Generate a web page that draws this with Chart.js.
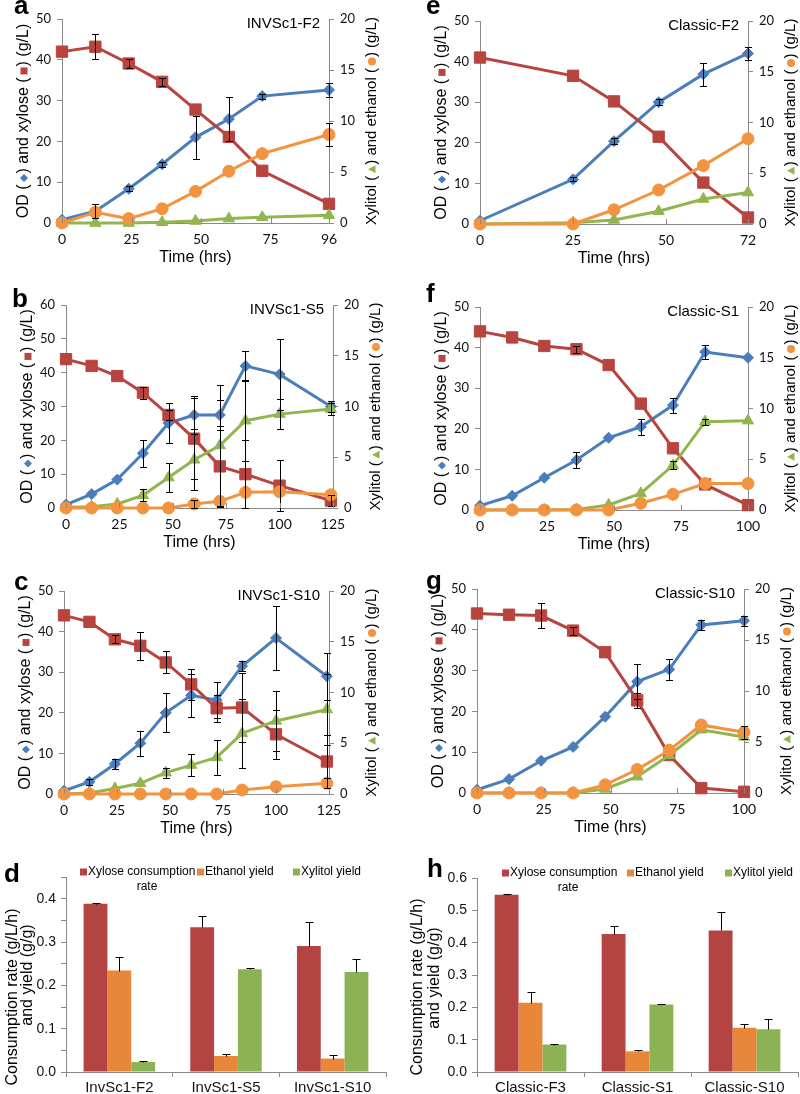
<!DOCTYPE html>
<html>
<head>
<meta charset="utf-8">
<title>Xylose fermentation panels</title>
<script src="https://cdn.jsdelivr.net/npm/chart.js@4.4.1/dist/chart.umd.min.js"></script>
<style>
  html, body { margin: 0; padding: 0; background: #fff; }
  #page { position: relative; width: 800px; height: 1094px; overflow: hidden; }
  #page canvas { position: absolute; }
</style>
</head>
<body>
<div id="page"></div>
<script>
// ---- time course data (left axis: OD, xylose g/L; right axis: xylitol, ethanol g/L) ----

// a  INVSc1-F2
const timesA = [0, 12, 24, 36, 48, 60, 72, 96];
const xTicksA = [0, 25, 50, 75, 96];
const odA = [0.8, 2.9, 8.4, 14.4, 21.0, 25.5, 31.1, 32.6];
const odErrA = [0, 1.7, 0.6, 0.6, 5.2, 5.3, 0.6, 1.8];
const xyloseA = [42.0, 43.2, 39.1, 34.6, 27.8, 21.1, 12.8, 4.7];
const xyloseErrA = [0, 3.1, 1.2, 1.0, 0, 0, 0, 0];
const xylitolA = [0, 0, 0, 0.07, 0.2, 0.43, 0.56, 0.75];
const xylitolErrA = [0, 0, 0, 0, 0, 0, 0, 0];
const ethanolA = [0, 1.05, 0.43, 1.4, 3.1, 5.07, 6.8, 8.67];
const ethanolErrA = [0, 0, 0, 0, 0, 0, 0, 1.1];

// b  INVSc1-S5
const timesB = [0, 12, 24, 36, 48, 60, 72, 84, 100, 124];
const xTicksB = [0, 25, 50, 75, 100, 125];
const odB = [1.0, 4.1, 8.4, 16.2, 25.1, 27.5, 27.5, 42.0, 39.5, 30.0];
const odErrB = [0, 0, 0, 4.0, 6.0, 5.5, 4.5, 4.5, 10.5, 1.5];
const xyloseB = [44.0, 42.0, 39.0, 34.1, 27.5, 20.5, 12.3, 10.0, 6.6, 2.2];
const xyloseErrB = [0, 0, 0, 1.8, 1.5, 12.0, 12.0, 10.0, 7.5, 1.5];
const xylitolB = [0.07, 0.13, 0.4, 1.25, 3.0, 4.75, 6.16, 8.6, 9.25, 9.75];
const xylitolErrB = [0, 0, 0, 0.6, 1.4, 3.0, 6.0, 4.0, 1.5, 0.6];
const ethanolB = [0, 0, 0, 0, 0, 0.4, 0.66, 1.54, 1.6, 1.3];
const ethanolErrB = [0, 0, 0, 0, 0, 0.4, 0, 0, 0, 0];

// c  INVSc1-S10
const timesC = [0, 12, 24, 36, 48, 60, 72, 84, 100, 124];
const xTicksC = [0, 25, 50, 75, 100, 125];
const odC = [0.8, 3.0, 7.4, 12.5, 20.0, 24.3, 23.1, 31.5, 38.4, 29.0];
const odErrC = [0, 0.7, 1.2, 3.1, 4.8, 5.3, 4.5, 1.3, 7.8, 5.8];
const xyloseC = [44.0, 42.4, 38.1, 36.5, 32.4, 27.0, 21.1, 21.3, 14.7, 8.0];
const xyloseErrC = [0, 0, 1.0, 3.4, 2.7, 3.8, 3.3, 8.5, 6.0, 6.5];
const xylitolC = [0, 0.1, 0.55, 1.05, 2.1, 2.85, 3.6, 5.97, 7.2, 8.33];
const xylitolErrC = [0, 0, 0, 0, 0.5, 1.1, 1.75, 3.4, 2.95, 3.5];
const ethanolC = [0, 0, 0, 0, 0, 0, 0, 0.39, 0.72, 1.05];
const ethanolErrC = [0, 0, 0, 0, 0, 0, 0, 0, 0, 0.5];

// e  Classic-F2
const timesE = [0, 25, 36, 48, 60, 72];
const xTicksE = [0, 25, 50, 72];
const odE = [0.8, 11.0, 20.4, 30.0, 36.9, 42.0];
const odErrE = [0, 0.5, 0.7, 0.7, 2.8, 1.6];
const xyloseE = [41.0, 36.5, 30.2, 21.5, 10.2, 1.6];
const xyloseErrE = [0, 0, 0, 0, 0, 0];
const xylitolE = [0, 0.13, 0.4, 1.25, 2.46, 3.1];
const xylitolErrE = [0, 0, 0, 0, 0, 0];
const ethanolE = [0, 0, 1.4, 3.35, 5.75, 8.4];
const ethanolErrE = [0, 0, 0, 0, 0, 0];

// f  Classic-S1
const timesF = [0, 12, 24, 36, 48, 60, 72, 84, 100];
const xTicksF = [0, 25, 50, 75, 100];
const odF = [1.07, 3.5, 7.95, 12.3, 17.8, 20.5, 25.8, 38.9, 37.5];
const odErrF = [0, 0, 0, 2.0, 0, 2.0, 1.9, 1.8, 0];
const xyloseF = [44.0, 42.5, 40.4, 39.6, 35.7, 26.2, 15.2, 6.3, 1.2];
const xyloseErrF = [0, 0, 0, 0.9, 0, 0, 0, 0, 0];
const xylitolF = [0, 0, 0, 0.05, 0.5, 1.64, 4.4, 8.7, 8.8];
const xylitolErrF = [0, 0, 0, 0, 0, 0, 0.4, 0.3, 0];
const ethanolF = [0, 0, 0, 0, 0, 0.66, 1.54, 2.6, 2.6];
const ethanolErrF = [0, 0, 0, 0, 0, 0, 0, 0, 0];

// g  Classic-S10
const timesG = [0, 12, 24, 36, 48, 60, 72, 84, 100];
const xTicksG = [0, 25, 50, 75, 100];
const odG = [0.8, 3.4, 7.9, 11.3, 18.7, 27.3, 30.3, 41.2, 42.2];
const odErrG = [0, 0, 0, 0, 0, 4.2, 2.6, 1.2, 1.2];
const xyloseG = [44.0, 43.7, 43.5, 39.8, 34.5, 22.7, 9.3, 1.2, 0.3];
const xyloseErrG = [0, 0, 3.0, 1.0, 0, 1.8, 0, 0, 0];
const xylitolG = [0, 0, 0, 0, 0.4, 1.6, 3.7, 6.2, 5.5];
const xylitolErrG = [0, 0, 0, 0, 0, 0, 0, 0, 0];
const ethanolG = [0, 0, 0, 0, 0.8, 2.3, 4.2, 6.67, 5.95];
const ethanolErrG = [0, 0, 0, 0, 0, 0, 0, 0, 0.65];

// ---- summary bars ----
const barLabels = ['Xylose consumption rate', 'Ethanol yield', 'Xylitol yield'];

const strainsD = ['InvSc1-F2', 'InvSc1-S5', 'InvSc1-S10'];
const rateD = [0.388, 0.334, 0.291];
const rateErrD = [0.002, 0.025, 0.056];
const ethYieldD = [0.234, 0.037, 0.031];
const ethYieldErrD = [0.031, 0.005, 0.008];
const xolYieldD = [0.023, 0.237, 0.231];
const xolYieldErrD = [0.003, 0.002, 0.029];

const strainsH = ['Classic-F3', 'Classic-S1', 'Classic-S10'];
const rateH = [0.548, 0.427, 0.438];
const rateErrH = [0.002, 0.026, 0.057];
const ethYieldH = [0.214, 0.064, 0.137];
const ethYieldErrH = [0.033, 0.005, 0.010];
const xolYieldH = [0.085, 0.209, 0.132];
const xolYieldErrH = [0.002, 0.002, 0.031];

// ---- styling ----
const BLUE = '#4A7EBB';
const RED = '#B8443F';
const GREEN = '#92B550';
const ORANGE = '#F2943F';
const BAR_RED = '#B34441';
const BAR_ORANGE = '#E8873A';
const BAR_GREEN = '#8CB353';
const AXIS_GRAY = '#8a8a8a';
const SANS = "'Liberation Sans', Arial, sans-serif";

Chart.defaults.font.family = 'Lato';
Chart.defaults.color = '#111';

const page = document.getElementById('page');

function makeCanvas(id, box) {
    const c = document.createElement('canvas');
    c.id = id;
    c.width = box[2];
    c.height = box[3];
    c.style.left = box[0] + 'px';
    c.style.top = box[1] + 'px';
    page.appendChild(c);
    return c;
}

// small marker shape drawn inline in a rotated title (text frame: +x along text)
function drawMarker(ctx, shape, cx, color) {
    ctx.fillStyle = color;
    ctx.beginPath();
    if (shape === 'diamond') {
        ctx.moveTo(cx - 4, 0); ctx.lineTo(cx, -4); ctx.lineTo(cx + 4, 0); ctx.lineTo(cx, 4);
    } else if (shape === 'square') {
        ctx.rect(cx - 3.5, -3.5, 7, 7);
    } else if (shape === 'triangle') {
        ctx.moveTo(cx - 4, 3.5); ctx.lineTo(cx, -4); ctx.lineTo(cx + 4, 3.5);
    } else {
        ctx.arc(cx, 0, 4, 0, Math.PI * 2);
    }
    ctx.closePath();
    ctx.fill();
}

// rotated (bottom-to-top) title built from text pieces and marker pieces
function drawRotated(ctx, x, y, pieces, font) {
    ctx.save();
    ctx.translate(x, y);
    ctx.rotate(-Math.PI / 2);
    ctx.textBaseline = 'middle';
    ctx.textAlign = 'left';
    ctx.font = font;
    let total = 0;
    pieces.forEach(p => {
        p.w = p.shape ? 11 : ctx.measureText(p.text).width;
        total += p.w;
    });
    let cx = -total / 2;
    pieces.forEach(p => {
        if (p.shape) {
            drawMarker(ctx, p.shape, cx + p.w / 2 + 1, p.color);
        } else {
            ctx.fillStyle = '#000';
            ctx.fillText(p.text, cx, 0);
        }
        cx += p.w;
    });
    ctx.restore();
}

function drawErrorBars(chart, upOnly) {
    const ctx = chart.ctx;
    ctx.save();
    ctx.strokeStyle = '#000';
    ctx.lineWidth = 1;
    chart.data.datasets.forEach((ds, i) => {
        if (!ds.errors) return;
        const meta = chart.getDatasetMeta(i);
        const yScale = chart.scales[meta.yAxisID];
        meta.data.forEach((el, j) => {
            const err = ds.errors[j];
            if (!err) return;
            const v = upOnly ? ds.data[j] : ds.data[j].y;
            const x = Math.round(el.x) + 0.5;
            const yTop = Math.round(yScale.getPixelForValue(v + err)) + 0.5;
            const yBot = Math.round(yScale.getPixelForValue(upOnly ? v : v - err)) + 0.5;
            const cap = upOnly ? 4 : 3.5;
            ctx.beginPath();
            ctx.moveTo(x, yTop);
            ctx.lineTo(x, yBot);
            ctx.moveTo(x - cap, yTop);
            ctx.lineTo(x + cap, yTop);
            if (!upOnly) {
                ctx.moveTo(x - cap, yBot);
                ctx.lineTo(x + cap, yBot);
            }
            ctx.stroke();
        });
    });
    ctx.restore();
}

function drawLetter(ctx, p) {
    ctx.save();
    ctx.font = 'bold 26px ' + SANS;
    ctx.fillStyle = '#000';
    ctx.textAlign = 'left';
    ctx.textBaseline = 'alphabetic';
    ctx.fillText(p.letter, p.letterAt[0] - p.box[0], p.letterAt[1] - p.box[1]);
    ctx.restore();
}

function lineDataset(label, times, values, errors, axis, color, style, radius) {
    return {
        label,
        data: times.map((t, i) => ({ x: t, y: values[i] })),
        errors,
        yAxisID: axis,
        borderColor: color,
        backgroundColor: color,
        borderWidth: 3,
        pointStyle: style,
        pointRadius: radius,
        pointBorderWidth: 1,
        tension: 0,
        clip: false
    };
}

/**
 * 建立時間曲線圖
 */
function buildLineChart(p) {
    const canvas = makeCanvas(p.id, p.box);
    const [cx, cy, cw, ch] = p.box;
    const [L, R, T, B] = p.area;

    const decor = {
        id: 'decor-' + p.id,
        afterDatasetsDraw(chart) {
            drawErrorBars(chart, false);
        },
        afterDraw(chart) {
            const ctx = chart.ctx;
            const area = chart.chartArea;
            // small inward ticks on the time axis
            const xs = chart.scales.x;
            ctx.save();
            ctx.strokeStyle = AXIS_GRAY;
            ctx.lineWidth = 1;
            p.xTicks.forEach(v => {
                const px = Math.round(xs.getPixelForValue(v)) + 0.5;
                ctx.beginPath();
                ctx.moveTo(px, area.bottom);
                ctx.lineTo(px, area.bottom - 5);
                ctx.stroke();
            });
            ctx.restore();

            drawLetter(ctx, p);

            ctx.save();
            ctx.fillStyle = '#000';
            ctx.font = '15px ' + SANS;
            ctx.textAlign = 'right';
            ctx.textBaseline = 'middle';
            ctx.fillText(p.name, area.right - 9, area.top + 5);

            ctx.font = '16px ' + SANS;
            ctx.textAlign = 'center';
            ctx.fillText('Time (hrs)', (area.left + area.right) / 2, area.bottom + 35);
            ctx.restore();

            const midY = (area.top + area.bottom) / 2;
            drawRotated(ctx, area.left - 38, midY, [
                { text: 'OD (' },
                { shape: 'diamond', color: BLUE },
                { text: ') and xylose (' },
                { shape: 'square', color: RED },
                { text: ') (g/L)' }
            ], '16px ' + SANS);
            drawRotated(ctx, area.right + 43, midY, [
                { text: 'Xylitol (' },
                { shape: 'triangle', color: GREEN },
                { text: ') and ethanol (' },
                { shape: 'circle', color: ORANGE },
                { text: ') (g/L)' }
            ], '15px ' + SANS);
        }
    };

    const yAxisBase = {
        min: 0,
        grid: { drawOnChartArea: false, drawTicks: true, tickLength: 5, color: AXIS_GRAY },
        border: { color: AXIS_GRAY },
        ticks: { font: { size: 13 }, padding: 6, autoSkip: false }
    };

    return new Chart(canvas, {
        type: 'line',
        data: {
            datasets: [
                lineDataset('Ethanol', p.times, p.ethanol, p.ethanolErr, 'y2', ORANGE, 'circle', 6),
                lineDataset('Xylitol', p.times, p.xylitol, p.xylitolErr, 'y2', GREEN, 'triangle', 6.5),
                lineDataset('Xylose', p.times, p.xylose, p.xyloseErr, 'y', RED, 'rect', 8),
                lineDataset('OD', p.times, p.od, p.odErr, 'y', BLUE, 'rectRot', 5.5)
            ]
        },
        options: {
            responsive: false,
            animation: false,
            events: [],
            layout: { padding: { top: T - cy, left: 0, right: 0, bottom: 0 } },
            plugins: { legend: { display: false }, tooltip: { enabled: false } },
            scales: {
                x: {
                    type: 'linear',
                    min: 0,
                    max: p.xMax,
                    afterBuildTicks: scale => { scale.ticks = p.xTicks.map(v => ({ value: v })); },
                    afterFit: scale => { scale.height = cy + ch - B; },
                    grid: { drawOnChartArea: false, drawTicks: false, color: AXIS_GRAY },
                    border: { color: AXIS_GRAY },
                    ticks: { font: { size: 14 }, padding: 8, autoSkip: false, maxRotation: 0 }
                },
                y: {
                    ...yAxisBase,
                    position: 'left',
                    max: p.leftMax,
                    ticks: { ...yAxisBase.ticks, stepSize: 10 },
                    afterFit: scale => { scale.width = L - cx; }
                },
                y2: {
                    ...yAxisBase,
                    position: 'right',
                    max: 20,
                    ticks: { ...yAxisBase.ticks, stepSize: 5 },
                    afterFit: scale => { scale.width = cx + cw - R; }
                }
            }
        },
        plugins: [decor]
    });
}

/**
 * 建立比較長條圖
 */
function buildBarChart(p) {
    const canvas = makeCanvas(p.id, p.box);
    const [cx, cy, cw, ch] = p.box;
    const [L, R, T, B] = p.area;

    const decor = {
        id: 'decor-' + p.id,
        afterDatasetsDraw(chart) {
            drawErrorBars(chart, true);
        },
        afterDraw(chart) {
            const ctx = chart.ctx;
            const area = chart.chartArea;
            drawLetter(ctx, p);

            // legend (wrapping like the original)
            ctx.save();
            ctx.font = '12px ' + SANS;
            ctx.textBaseline = 'middle';
            ctx.textAlign = 'left';
            const ly = area.top - 5;
            const colors = [BAR_RED, BAR_ORANGE, BAR_GREEN];
            const texts = ['Xylose consumption', 'Ethanol yield', 'Xylitol yield'];
            p.legendX.forEach((lx, i) => {
                ctx.fillStyle = colors[i];
                ctx.fillRect(area.left + lx, ly - 3.5, 7, 7);
                ctx.fillStyle = '#000';
                ctx.fillText(texts[i], area.left + lx + 8, ly);
            });
            ctx.textAlign = 'center';
            ctx.fillText('rate', area.left + p.rateX, area.top + 10);
            ctx.restore();

            drawRotated(ctx, area.left - p.titleDx[0], p.titleY[0] - cy,
                [{ text: 'Consumption rate (g/L/h)' }], '16px ' + SANS);
            drawRotated(ctx, area.left - p.titleDx[1], p.titleY[1] - cy,
                [{ text: 'and yield (g/g)' }], '16px ' + SANS);
        }
    };

    return new Chart(canvas, {
        type: 'bar',
        data: {
            labels: p.labels,
            datasets: [
                { label: barLabels[0], data: p.rate, errors: p.rateErr, backgroundColor: BAR_RED },
                { label: barLabels[1], data: p.eth, errors: p.ethErr, backgroundColor: BAR_ORANGE },
                { label: barLabels[2], data: p.xol, errors: p.xolErr, backgroundColor: BAR_GREEN }
            ]
        },
        options: {
            responsive: false,
            animation: false,
            events: [],
            layout: { padding: { top: T - cy, left: 0, right: cx + cw - R, bottom: 0 } },
            datasets: { bar: { categoryPercentage: 0.67, barPercentage: 1 } },
            plugins: { legend: { display: false }, tooltip: { enabled: false } },
            scales: {
                x: {
                    grid: { offset: true, drawOnChartArea: false, tickLength: 5, color: AXIS_GRAY },
                    border: { color: AXIS_GRAY },
                    ticks: { font: { family: SANS, size: 15 }, padding: 2, maxRotation: 0 },
                    afterFit: scale => { scale.height = cy + ch - B; }
                },
                y: {
                    min: 0,
                    max: p.yMax,
                    grid: { drawOnChartArea: false, tickLength: 5, color: AXIS_GRAY },
                    border: { color: AXIS_GRAY },
                    ticks: {
                        stepSize: p.yStep,
                        autoSkip: false,
                        padding: 5,
                        font: { family: SANS, size: 14 },
                        callback: v => (Math.abs(v * 10 - Math.round(v * 10)) < 1e-6 ? v.toFixed(1) : '')
                    },
                    afterFit: scale => { scale.width = L - cx; }
                }
            }
        },
        plugins: [decor]
    });
}

const linePanels = [
    { id: 'chart-a', box: [0, 0, 400, 275], area: [62, 329, 19, 223], letter: 'a', letterAt: [14, 14], name: 'INVSc1-F2',
      times: timesA, xTicks: xTicksA, xMax: 96, leftMax: 50,
      od: odA, odErr: odErrA, xylose: xyloseA, xyloseErr: xyloseErrA,
      xylitol: xylitolA, xylitolErr: xylitolErrA, ethanol: ethanolA, ethanolErr: ethanolErrA },
    { id: 'chart-e', box: [400, 0, 400, 275], area: [480, 748, 21, 224], letter: 'e', letterAt: [426, 14], name: 'Classic-F2',
      times: timesE, xTicks: xTicksE, xMax: 72, leftMax: 50,
      od: odE, odErr: odErrE, xylose: xyloseE, xyloseErr: xyloseErrE,
      xylitol: xylitolE, xylitolErr: xylitolErrE, ethanol: ethanolE, ethanolErr: ethanolErrE },
    { id: 'chart-b', box: [0, 275, 400, 285], area: [66, 333, 305, 508], letter: 'b', letterAt: [12, 307], name: 'INVSc1-S5',
      times: timesB, xTicks: xTicksB, xMax: 125, leftMax: 60,
      od: odB, odErr: odErrB, xylose: xyloseB, xyloseErr: xyloseErrB,
      xylitol: xylitolB, xylitolErr: xylitolErrB, ethanol: ethanolB, ethanolErr: ethanolErrB },
    { id: 'chart-f', box: [400, 275, 400, 285], area: [480, 748, 307, 510], letter: 'f', letterAt: [426, 302], name: 'Classic-S1',
      times: timesF, xTicks: xTicksF, xMax: 100, leftMax: 50,
      od: odF, odErr: odErrF, xylose: xyloseF, xyloseErr: xyloseErrF,
      xylitol: xylitolF, xylitolErr: xylitolErrF, ethanol: ethanolF, ethanolErr: ethanolErrF },
    { id: 'chart-c', box: [0, 560, 400, 285], area: [64, 329, 591, 794], letter: 'c', letterAt: [14, 590], name: 'INVSc1-S10',
      times: timesC, xTicks: xTicksC, xMax: 125, leftMax: 50,
      od: odC, odErr: odErrC, xylose: xyloseC, xyloseErr: xyloseErrC,
      xylitol: xylitolC, xylitolErr: xylitolErrC, ethanol: ethanolC, ethanolErr: ethanolErrC },
    { id: 'chart-g', box: [400, 560, 400, 285], area: [477, 744, 589, 793], letter: 'g', letterAt: [426, 589], name: 'Classic-S10',
      times: timesG, xTicks: xTicksG, xMax: 100, leftMax: 50,
      od: odG, odErr: odErrG, xylose: xyloseG, xyloseErr: xyloseErrG,
      xylitol: xylitolG, xylitolErr: xylitolErrG, ethanol: ethanolG, ethanolErr: ethanolErrG }
];

const barPanels = [
    { id: 'chart-d', box: [0, 845, 400, 249], area: [66, 386, 877, 1072], letter: 'd', letterAt: [4, 882],
      labels: strainsD, yMax: 0.45, yStep: 0.05,
      rate: rateD, rateErr: rateErrD, eth: ethYieldD, ethErr: ethYieldErrD, xol: xolYieldD, xolErr: xolYieldErrD,
      legendX: [14, 131, 227], rateX: 81, titleDx: [53, 38], titleY: [997, 975] },
    { id: 'chart-h', box: [400, 845, 400, 249], area: [477, 798, 878, 1072], letter: 'h', letterAt: [427, 877],
      labels: strainsH, yMax: 0.6, yStep: 0.1,
      rate: rateH, rateErr: rateErrH, eth: ethYieldH, ethErr: ethYieldErrH, xol: xolYieldH, xolErr: xolYieldErrH,
      legendX: [25, 150, 248], rateX: 91, titleDx: [59, 42], titleY: [987, 978] }
];

linePanels.forEach(buildLineChart);
barPanels.forEach(buildBarChart);
</script>
</body>
</html>
